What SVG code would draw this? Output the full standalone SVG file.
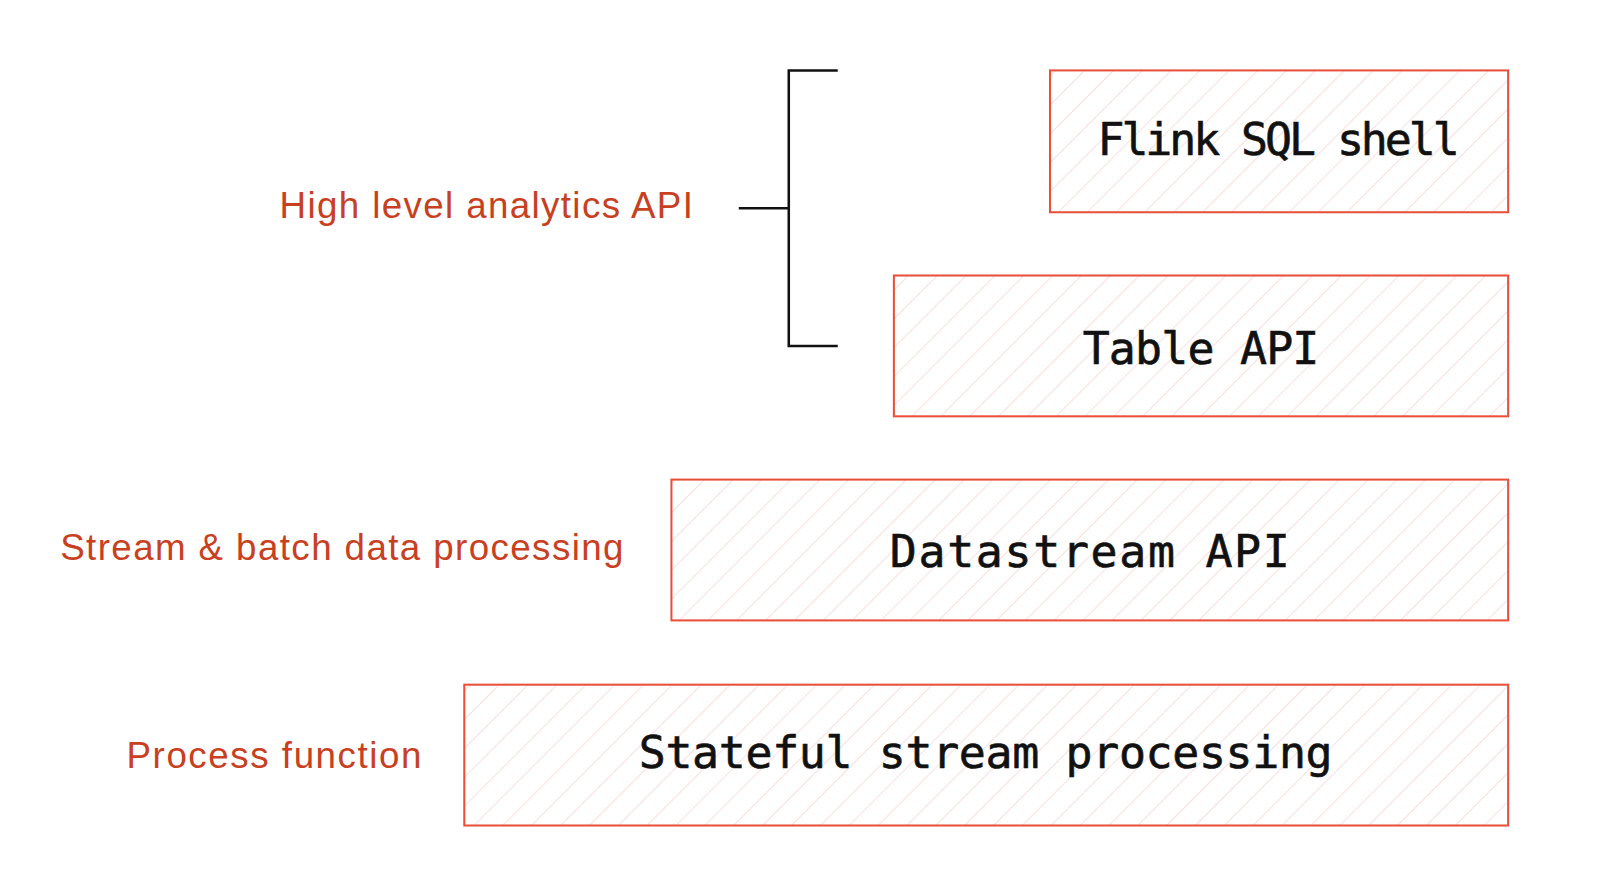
<svg xmlns="http://www.w3.org/2000/svg" width="1600" height="896" viewBox="0 0 1600 896">
<defs>
<pattern id="hatch" patternUnits="userSpaceOnUse" width="20" height="20" patternTransform="rotate(45)">
<line x1="0" y1="0" x2="0" y2="20" stroke="#f6caca" stroke-width="1.2"/>
</pattern>
<style>
.box{fill:url(#hatch);stroke:#e8503a;stroke-width:2}
.bt{font-family:"DejaVu Sans Mono",monospace;font-size:44px;fill:#111;text-anchor:middle;stroke:#111;stroke-width:0.6}
.lb{font-family:"Liberation Sans",Arial,sans-serif;font-size:36px;fill:#c8401f}
</style>
</defs>
<rect width="1600" height="896" fill="#fff"/>
<g transform="scale(1.0204)">
<g id="connectors" fill="none" stroke="#111" stroke-width="2.5">
<polyline points="821,69 773,69 773,339 821,339"/>
<line x1="724" y1="204" x2="773" y2="204"/>
</g>
<g id="flink-sql"><rect class="box" x="1029" y="69" width="449" height="139"/><text class="bt" x="1253" y="152" textLength="355">Flink SQL shell</text></g>
<g id="table-api"><rect class="box" x="876" y="270" width="602" height="138"/><text class="bt" x="1177" y="357" textLength="232">Table API</text></g>
<g id="datastream-api"><rect class="box" x="658" y="470" width="820" height="138"/><text class="bt" x="1068" y="556" textLength="392">Datastream API</text></g>
<g id="stateful"><rect class="box" x="455" y="671" width="1023" height="138"/><text class="bt" x="966" y="753" textLength="680">Stateful stream processing</text></g>
<g id="label-high"><text class="lb" x="274" y="214" textLength="405">High level analytics API</text></g>
<g id="label-stream"><text class="lb" x="59" y="549" textLength="552">Stream &amp; batch data processing</text></g>
<g id="label-process"><text class="lb" x="124" y="753" textLength="289">Process function</text></g>
</g>
</svg>
